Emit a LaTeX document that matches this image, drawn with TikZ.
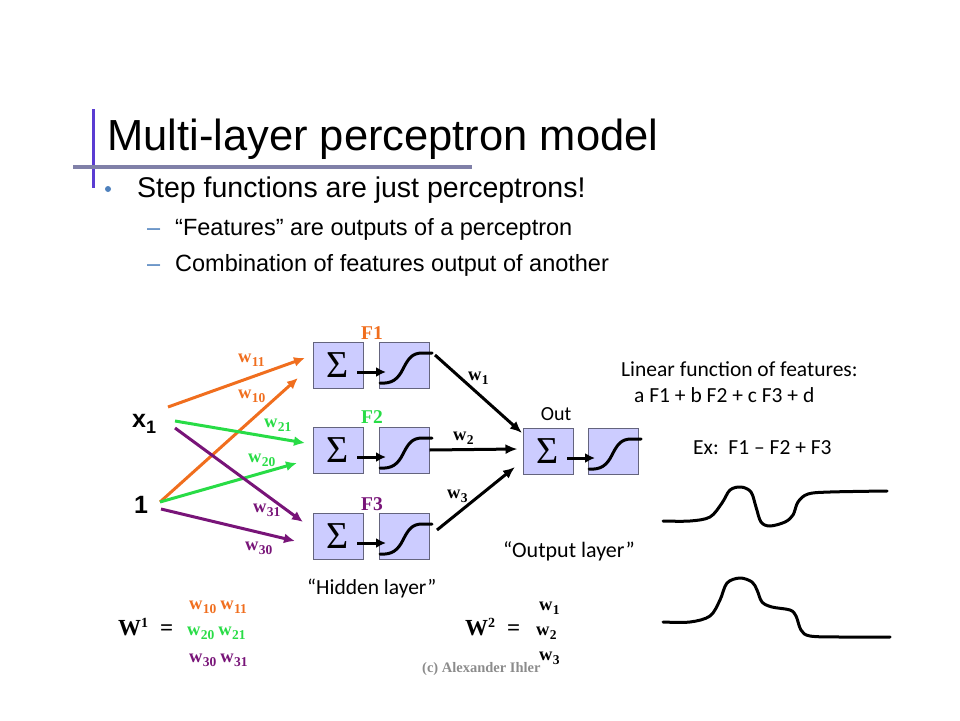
\documentclass[tikz,border=0pt]{standalone}
\usepackage{fontspec}
\setmainfont{Liberation Serif}
\newfontfamily\arialf{Liberation Sans}
\newfontfamily\calf{Carlito}
\usetikzlibrary{arrows.meta,calc}
\definecolor{wor}{RGB}{240,110,30}
\definecolor{wgr}{RGB}{40,220,70}
\definecolor{wpu}{RGB}{120,20,120}
\definecolor{boxfill}{RGB}{204,204,255}
\definecolor{boxline}{RGB}{100,100,125}
\definecolor{barc}{RGB}{90,60,210}
\definecolor{rulec}{RGB}{128,128,168}
\definecolor{bulc}{RGB}{79,129,189}
\definecolor{copyc}{RGB}{140,140,140}
\newcommand{\fs}[1]{\fontsize{#1}{#1}\selectfont}
\newcommand{\wsub}[1]{{\fs{18.5}\bfseries w}\kern0.3pt\raisebox{-4pt}{\fs{13.5}\bfseries #1}}
\begin{document}
\begin{tikzpicture}[x=1pt,y=-1pt,
  ubox/.style={draw=boxline, fill=boxfill, line width=1, minimum width=50, minimum height=46, inner sep=0},
  sumbox/.style={ubox, font=\fs{38}},
  sigline/.style={line width=3, line cap=round},
  inarr/.style={line width=3, -{Latex[length=11,width=10]}},
  oarr/.style={line width=3, black, -{Latex[length=12,width=10]}},
  iarr/.style={line width=3, black, -{Latex[length=10,width=10]}},
  lab/.style={anchor=base west, inner sep=0},
  wl/.style={anchor=base west, inner sep=0},
  flab/.style={anchor=base, inner sep=0, font=\bfseries\fs{19.5}}
]
\useasboundingbox (0,0) rectangle (960,720);

% title area
\draw[barc, line width=3] (93,109) -- (93,188);
\draw[rulec, line width=4] (73,167) -- (472,167);
\node[lab, font=\arialf\fs{43.5}] (title) at (107,150) {Multi-layer perceptron model};
\fill[bulc] (108,189) circle (3);
\node[lab, font=\arialf\fs{28.5}] (b1) at (137,197) {Step functions are just perceptrons!};
\node[lab, font=\arialf\fs{23.5}, text=bulc] (d1) at (147,235) {–};
\node[lab, font=\arialf\fs{23.5}] (s1) at (175,235) {“Features” are outputs of a perceptron};
\node[lab, font=\arialf\fs{23.5}, text=bulc] (d2) at (147,271) {–};
\node[lab, font=\arialf\fs{23.5}] (s2) at (175,271) {Combination of features output of another};

% boxes
\node[sumbox] (h1) at (338,365) {Σ};
\node[ubox] (g1) at (404,365) {};
\node[sumbox] (h2) at (338,450) {Σ};
\node[ubox] (g2) at (404,450) {};
\node[sumbox] (h3) at (338,536) {Σ};
\node[ubox] (g3) at (404,536) {};
\node[sumbox] (ho) at (548,451) {Σ};
\node[ubox] (go) at (613,451) {};

% sigmoids
\foreach \g in {g1,g2,g3,go}{
  \draw[sigline, shift={(\g.center)}] (-24,18) .. controls (-12,19) and (-6,14) .. (-1,4)
     .. controls (4,-6) and (8,-12) .. (18,-12) -- (28,-12);
}
% inner arrows
\foreach \h/\g in {h1/g1,h2/g2,h3/g3,ho/go}{
  \draw[iarr] ($(\h.center)+(19,7)$) -- ($(\g.center)+(-18,7)$);
}

% F labels
\node[flab, text=wor] (F1) at (372,339) {F1};
\node[flab, text=wgr] (F2) at (372,423) {F2};
\node[flab, text=wpu] (F3) at (372,510) {F3};
\node[anchor=base, inner sep=0, font=\calf\fs{20}] (outl) at (556,420) {Out};

% inputs
\node[lab, font=\arialf\bfseries\fs{25}] (xin) at (132,427) {x\raisebox{-6pt}{\fs{18}1}};
\node[lab, font=\arialf\bfseries\fs{25}] (one) at (134,513) {1};

\coordinate (xa) at (168,407);
\coordinate (xb) at (175,421);
\coordinate (xc) at (175,428);
\coordinate (oa) at (160,502);
\coordinate (oc) at (161,509);
\coordinate (t11) at (305,358);
\coordinate (t10) at (298,378);
\coordinate (t21) at (305,443);
\coordinate (t20) at (297,463);
\coordinate (t31) at (303,522);
\coordinate (t30) at (295,541);

\draw[inarr, wor] (xa) -- (t11);
\draw[inarr, wor] (oa) -- (t10);
\draw[inarr, wgr] (xb) -- (t21);
\draw[inarr, wgr] (oa) -- (t20);
\draw[inarr, wpu] (xc) -- (t31);
\draw[inarr, wpu] (oc) -- (t30);

\node[wl, text=wor] (l11) at (238,362) {\wsub{11}};
\node[wl, text=wor] (l10) at (238,398) {\wsub{10}};
\node[wl, text=wgr] (l21) at (264,427) {\wsub{21}};
\node[wl, text=wgr] (l20) at (248,462) {\wsub{20}};
\node[wl, text=wpu] (l31) at (253,512) {\wsub{31}};
\node[wl, text=wpu] (l30) at (245,550) {\wsub{30}};

% output arrows
\coordinate (o1) at (435,355);
\coordinate (o3) at (437,530);
\coordinate (q1) at (522,433);
\coordinate (q3) at (515,467);
\draw[oarr] (o1) -- (q1);
\draw[oarr] (g2.east) -- ($(ho.west)+(-5,-2)$);
\draw[oarr] (o3) -- (q3);
\node[wl] (m1) at (468,380) {\wsub{1}};
\node[wl] (m2) at (453,440) {\wsub{2}};
\node[wl] (m3) at (447,498) {\wsub{3}};

% texts right
\node[lab, font=\calf\fs{21.5}] (lin1) at (621,376) {Linear function of features:};
\node[lab, font=\calf\fs{21.5}] (lin2) at (634,402) {a F1 + b F2 + c F3 + d};
\node[lab, font=\calf\fs{21.5}] (ex) at (693,454) {Ex:\ \ F1 – F2 + F3};
\node[lab, font=\calf\fs{22}] (outlay) at (503,557) {“Output layer”};
\node[lab, font=\calf\fs{21.5}] (hidlay) at (307,594) {“Hidden layer”};

% curves
\draw[line width=3, line cap=round] plot[smooth, tension=0.55] coordinates {
 (663,521) (690,521) (710,517) (722,503) (730,490) (741,487) (751,492) (756,507)
 (761,522) (770,526) (785,522) (793,515) (798,502) (808,494) (830,492) (887,491)};
\draw[line width=3, line cap=round] plot[smooth, tension=0.55] coordinates {
 (663,622) (690,622) (710,616) (720,600) (727,583) (740,578) (752,582) (757,590)
 (762,602) (772,607) (790,610) (796,616) (801,630) (810,636) (840,637) (890,637)};

% matrices
\node[lab, font=\bfseries\fs{23}] (W1) at (118,635) {W\raisebox{8pt}{\fs{14}1}\hspace{12pt}=};
\node[wl, text=wor] (r1) at (189,609) {\wsub{10}\hspace{4pt}\wsub{11}};
\node[wl, text=wgr] (r2) at (187,635) {\wsub{20}\hspace{4pt}\wsub{21}};
\node[wl, text=wpu] (r3) at (189,662) {\wsub{30}\hspace{4pt}\wsub{31}};
\node[lab, font=\bfseries\fs{23}] (W2) at (465,635) {W\raisebox{8pt}{\fs{14}2}\hspace{12pt}=};
\node[wl] (v1) at (539,610) {\wsub{1}};
\node[wl] (v2) at (536,635) {\wsub{2}};
\node[wl] (v3) at (539,660) {\wsub{3}};
\node[lab, font=\bfseries\fs{14.5}, text=copyc] (copy) at (422,672) {(c) Alexander Ihler};
\end{tikzpicture}
\end{document}
